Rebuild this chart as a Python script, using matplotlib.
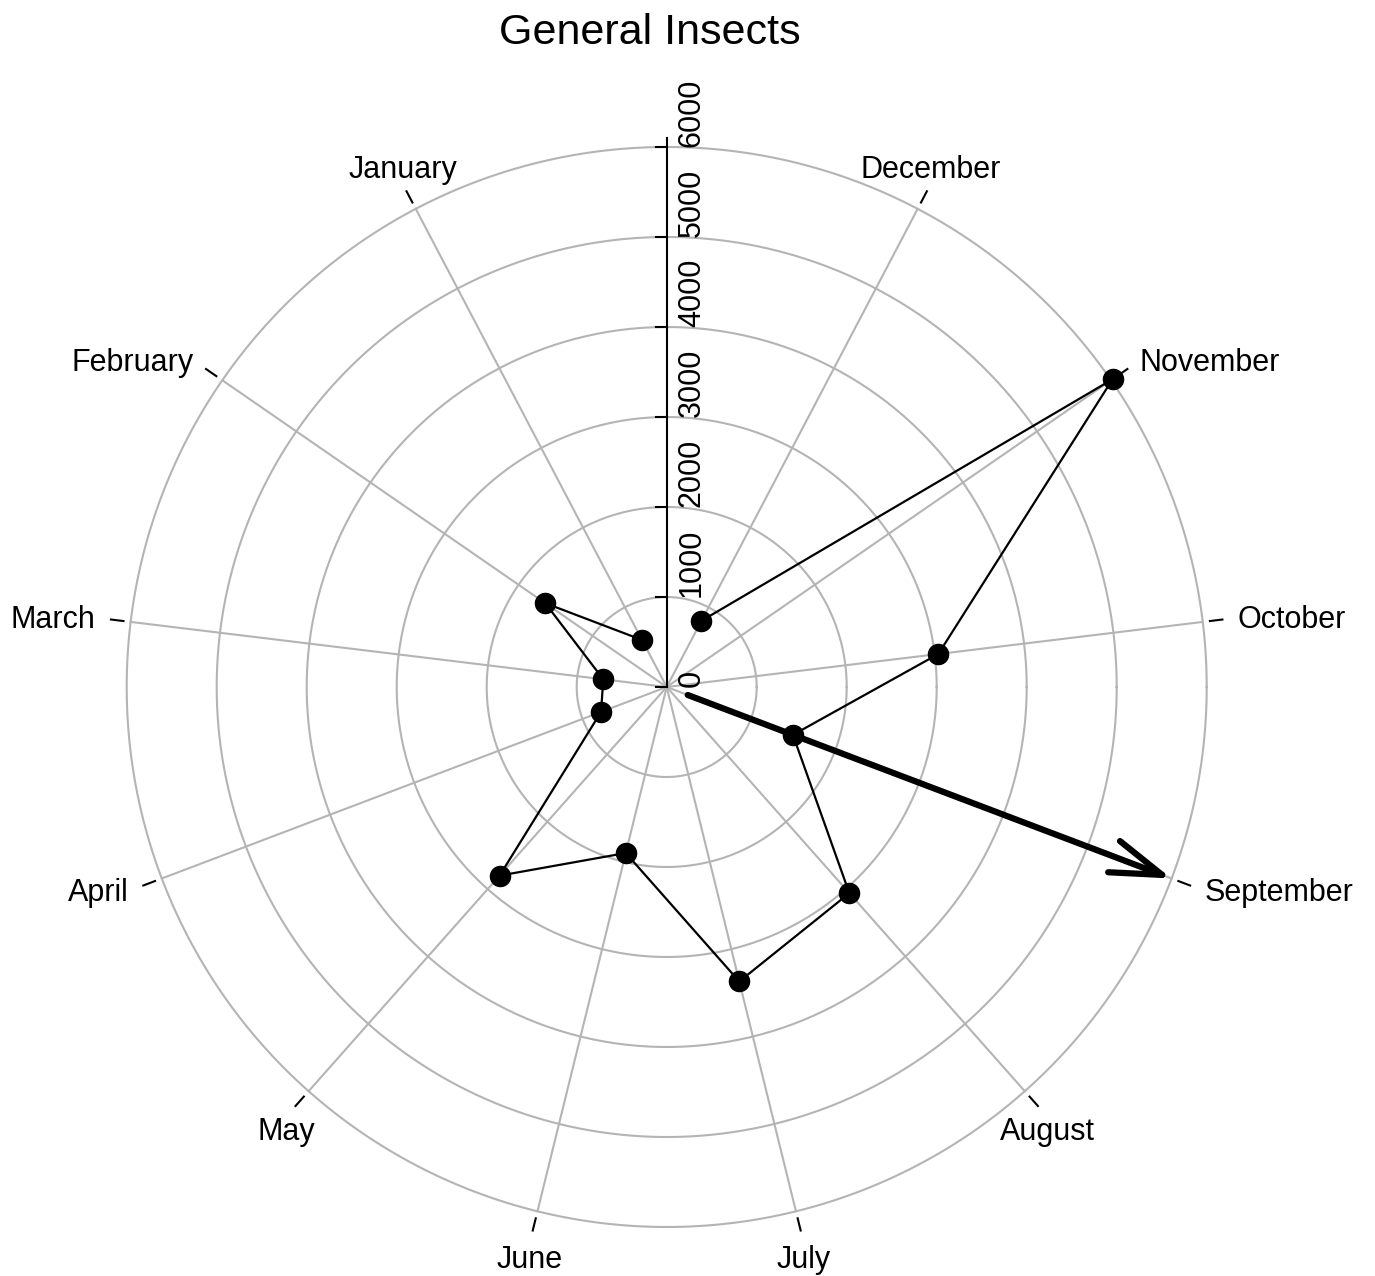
import numpy as np
import matplotlib.pyplot as plt

plt.rcParams['font.family'] = ['Liberation Sans', 'DejaVu Sans']

# monthly counts
months = ["January", "February", "March", "April", "May", "June",
          "July", "August", "September", "October", "November", "December"]
counts = [590, 1640, 710, 780, 2800, 1900, 3370, 3060, 1500, 3040, 6020, 830]

radial_ticks = [0, 1000, 2000, 3000, 4000, 5000, 6000]

# mean direction arrow (points to September)
arrow_month = 8      # index of September
arrow_start = 250
arrow_length = 6000

rmax = 6000
grey = "#b4b4b4"

# 13 slots round the circle, slot 0 (top) holds the radial axis
theta = np.deg2rad(90 + np.arange(1, 13) * 360 / 13)


def xy(r, t):
    return r * np.cos(t), r * np.sin(t)


fig = plt.figure(figsize=(13.75, 12.76), dpi=100)
ax = fig.add_axes([0, 0, 1, 1])
ax.set_xlim(-666.7 / 90 * 1000, (1375 - 666.7) / 90 * 1000)
ax.set_ylim(-(1276 - 687) / 90 * 1000, 687 / 90 * 1000)
ax.axis("off")

# grid circles
phi = np.linspace(0, 2 * np.pi, 400)
for r in radial_ticks[1:]:
    ax.plot(*xy(r, phi), color=grey, lw=1.5, zorder=1)

# spokes and month labels
for t, name in zip(theta, months):
    ax.plot(*xy(np.array([0, rmax]), t), color=grey, lw=1.5, zorder=1)
    ax.plot(*xy(np.array([6080, 6220]), t), color="black", lw=1.5, zorder=2)
    c, s = np.cos(t), np.sin(t)
    if abs(c) > 0.75:
        ha = "left" if c > 0 else "right"
        va = "center"
        lx, ly = xy(6390, t)
        ly -= 25
    elif s > 0:
        ha, va = "center", "bottom"
        lx, ly = xy(6300, t)
    else:
        ha, va = "center", "top"
        lx, ly = xy(6380, t)
    ax.text(lx, ly, name, ha=ha, va=va, fontsize=22)

# radial axis
ax.plot([0, 0], [0, 6100], color="black", lw=1.5, zorder=3)
for v in radial_ticks:
    ax.plot([-120, 0], [v, v], color="black", lw=1.5, zorder=3)
    ax.text(280, v, str(v), rotation=90, rotation_mode="anchor",
            ha="left", va="center", fontsize=22)

# data
px, py = xy(np.array(counts, dtype=float), theta)
ax.plot(px, py, color="black", lw=1.6, zorder=4)
ax.plot(px, py, "o", color="black", ms=14.5, zorder=5)

# arrow
ta = theta[arrow_month]
ax.annotate("", xy=xy(arrow_length, ta), xytext=xy(arrow_start, ta),
            arrowprops=dict(arrowstyle="->,head_length=1.85,head_width=0.6",
                            lw=4.5, color="black", mutation_scale=20,
                            shrinkA=0, shrinkB=0), zorder=6)

fig.text(650 / 1375, 1 - 33 / 1276, "General Insects", ha="center",
         va="center", fontsize=31)

fig.savefig("out.png", dpi=100, facecolor="white")
